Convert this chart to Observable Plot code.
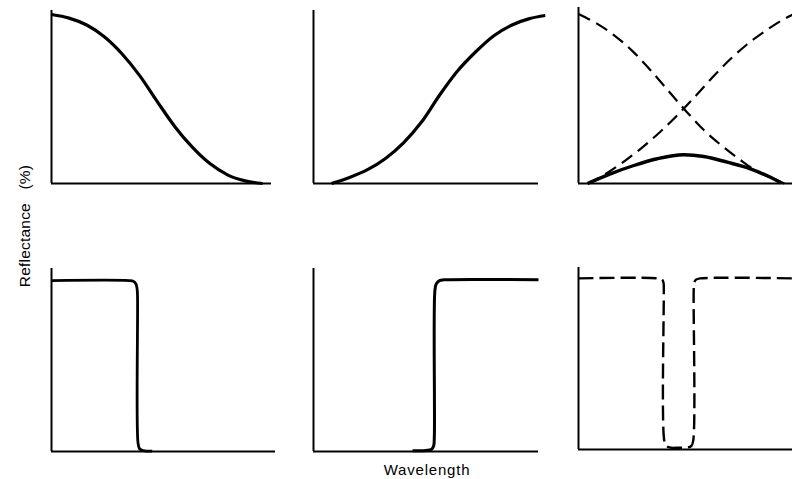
<!DOCTYPE html>
<html>
<head>
<meta charset="utf-8">
<script src="https://cdn.jsdelivr.net/npm/d3@7"></script>
<script src="https://cdn.jsdelivr.net/npm/@observablehq/plot@0.6"></script>
<style>
  html, body { margin: 0; padding: 0; background: #fff; overflow: hidden; }
  #chart { position: relative; width: 792px; height: 479px; font-family: "Liberation Sans", Arial, sans-serif; color: #000; }
  .panel { position: absolute; }
  .ylabel { position: absolute; left: 25px; top: 226px; transform: translate(-50%, -50%) rotate(-90deg); font-size: 15.5px; white-space: nowrap; word-spacing: 9px; letter-spacing: 0.2px; }
  .xlabel { position: absolute; left: 427px; top: 462px; transform: translateX(-50%); font-size: 15px; line-height: 1; letter-spacing: 0.8px; white-space: nowrap; }
</style>
</head>
<body>
<div id="chart"></div>
<script>
// ---- Data (x: relative wavelength 0–100, y: reflectance 0–100) ----
// Top row, panel 1: falling reflectance (solid)
const p1X = [0, 8, 16, 24, 32, 40, 48, 56, 64, 72, 80, 88, 96];
const p1Y = [97.7, 95.6, 91.6, 84.8, 75, 62.5, 47.5, 33, 21, 11.5, 5, 1.5, 0];
// Top row, panel 2: rising reflectance (solid)
const p2X = [8, 16, 24, 32, 40, 48, 56, 64, 72, 80, 88, 96, 103];
const p2Y = [0, 3.5, 8, 14.5, 23.5, 35.5, 51, 65, 76, 85.3, 91.5, 95.3, 97.1];
// Top row, panel 3: falling (dashed), rising (dashed), product (solid)
const p3FallX = [0, 8, 16, 24, 32, 40, 48, 56, 64, 72, 80, 88, 91.5];
const p3FallY = [98, 92.5, 85.5, 76.5, 65.5, 53.5, 41.5, 30.5, 21.5, 13.5, 6.5, 2, 0];
const p3RiseX = [4, 12, 20, 28, 36, 44, 52, 60, 68, 76, 84, 92, 95.1];
const p3RiseY = [0, 5.5, 12.5, 20.5, 29.5, 39.5, 50.5, 62, 72.5, 81.5, 89, 95.5, 97.5];
const p3ProdX = [4, 14.2, 24.6, 35, 46.8, 55.7, 66.1, 76.4, 85.3, 90];
const p3ProdY = [0, 5.6, 10.4, 14.3, 16.6, 15.6, 12.3, 8.5, 3.6, 0.5];
// Bottom row, panel 4: short-pass step (solid)
const p4X = [0, 34.5, 36.5, 37.7, 38.2, 38.4, 38.6, 39.3, 41, 45];
const p4Y = [93.4, 93.4, 93, 91.5, 89, 85, 5, 1.5, 0.5, 0.2];
// Bottom row, panel 5: long-pass step (solid)
const p5X = [44, 50, 52.5, 53.4, 53.7, 53.9, 54.5, 56, 58, 100];
const p5Y = [0.4, 0.6, 1.2, 3, 8, 87, 91.5, 93.4, 93.8, 93.8];
// Bottom row, panel 6: notch (dashed)
const p6X = [0, 35.5, 37.2, 37.8, 37.9, 38.1, 39, 41, 44.5, 48, 50.2, 51.0, 51.2, 51.4, 52.2, 54, 95.1];
const p6Y = [94, 94, 93.3, 91.5, 88, 5, 2, 1, 1, 1, 2, 5, 88, 91.5, 93.3, 94, 94];

const yTitle = "Reflectance (%)";
const xTitle = "Wavelength";

// ---- Layout (pixels) ----
const panels = [
  { left: 51,  top: 10,  bottom: 183, xMax: 100,  xPx: 220, yMax: 100,   mr: 4,  lines: [{x: p1X, y: p1Y, dash: null, w: 3.2, curve: "monotone-x"}] },
  { left: 313, top: 10,  bottom: 183, xMax: 100,  xPx: 225, yMax: 100,   mr: 12, lines: [{x: p2X, y: p2Y, dash: null, w: 3.2, curve: "monotone-x"}] },
  { left: 578, top: 7,   bottom: 183, xMax: 95.1, xPx: 214, yMax: 101.7, mr: 0,  lines: [
      {x: p3FallX, y: p3FallY, dash: "13,7", w: 2.2, curve: "monotone-x"},
      {x: p3RiseX, y: p3RiseY, dash: "13,7", w: 2.2, curve: "monotone-x"},
      {x: p3ProdX, y: p3ProdY, dash: null, w: 3.4, curve: "monotone-x"}] },
  { left: 51,  top: 268, bottom: 451, xMax: 100,  xPx: 224, yMax: 100,   mr: 4,  lines: [{x: p4X, y: p4Y, dash: null, w: 2.8, curve: "catmull-rom"}] },
  { left: 313, top: 268, bottom: 451, xMax: 100,  xPx: 225, yMax: 100,   mr: 4,  lines: [{x: p5X, y: p5Y, dash: null, w: 3.0, curve: "catmull-rom"}] },
  { left: 578, top: 267, bottom: 449, xMax: 95.1, xPx: 214, yMax: 100,   mr: 0,  lines: [{x: p6X, y: p6Y, dash: "15,6", w: 2.4, curve: "catmull-rom"}] }
];

const chart = document.getElementById("chart");
const m = 4;
for (const p of panels) {
  const hPx = p.bottom - p.top;
  const marks = [
    Plot.ruleX([0], {stroke: "#000", strokeWidth: 2}),
    Plot.ruleY([0], {stroke: "#000", strokeWidth: 2})
  ];
  for (const L of p.lines) {
    const data = L.x.map((x, i) => ({x, y: L.y[i]}));
    const opts = {x: "x", y: "y", stroke: "#000", strokeWidth: L.w, curve: L.curve, strokeLinecap: "butt", strokeLinejoin: "round"};
    if (L.dash) opts.strokeDasharray = L.dash;
    marks.push(Plot.line(data, opts));
  }
  const svg = Plot.plot({
    width: m + p.xPx + p.mr,
    height: m + hPx + m,
    marginLeft: m, marginRight: p.mr, marginTop: m, marginBottom: m,
    x: {domain: [0, p.xMax], axis: null},
    y: {domain: [0, p.yMax], axis: null},
    style: {background: "transparent", overflow: "visible"},
    marks
  });
  const div = document.createElement("div");
  div.className = "panel";
  div.style.left = (p.left - m) + "px";
  div.style.top = (p.top - m) + "px";
  div.appendChild(svg);
  chart.appendChild(div);
}

const yl = document.createElement("div");
yl.className = "ylabel";
yl.textContent = yTitle;
chart.appendChild(yl);
const xl = document.createElement("div");
xl.className = "xlabel";
xl.textContent = xTitle;
chart.appendChild(xl);
</script>
</body>
</html>
